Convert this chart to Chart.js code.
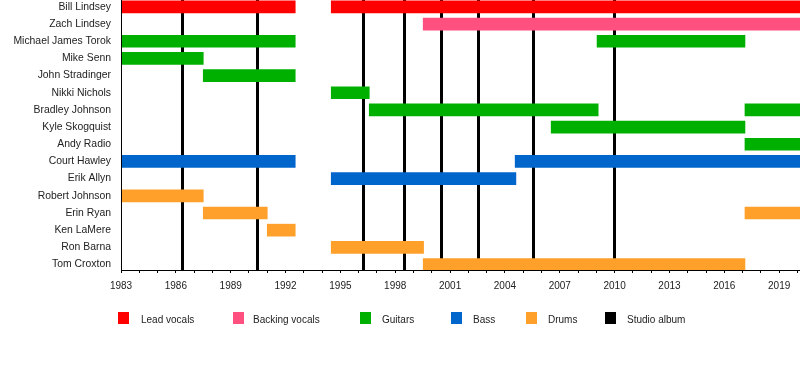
<!DOCTYPE html>
<html><head><meta charset="utf-8">
<script src="https://cdn.jsdelivr.net/npm/chart.js@4"></script>
<style>
html,body{margin:0;padding:0;background:#fff;}
#wrap{position:relative;width:800px;height:390px;overflow:hidden;}
#legend{position:absolute;left:0;top:0;width:800px;height:390px;pointer-events:none;font:10px "Liberation Sans",Arial,sans-serif;color:#222;}
.sw{position:absolute;width:11px;height:12px;top:312px;}
.lt{position:absolute;top:313px;line-height:14px;white-space:nowrap;}
</style></head><body>
<div id="wrap"><canvas id="c" width="800" height="390"></canvas><div id="legend"></div></div>
<script>
// ---- data ----
const members = ["Bill Lindsey","Zach Lindsey","Michael James Torok","Mike Senn","John Stradinger","Nikki Nichols","Bradley Johnson","Kyle Skogquist","Andy Radio","Court Hawley","Erik Allyn","Robert Johnson","Erin Ryan","Ken LaMere","Ron Barna","Tom Croxton"];
const START = 1983;
const END = 2020.14;
const leadVocals = [["Bill Lindsey",1983,1992.53],["Bill Lindsey",1994.5,END]];
const backingVocals = [["Zach Lindsey",1999.53,END]];
const guitars = [["Michael James Torok",1983,1992.53],["Michael James Torok",2009.04,2017.13],["Mike Senn",1983,1987.5],["John Stradinger",1987.5,1992.53],["Nikki Nichols",1994.5,1996.58],["Bradley Johnson",1996.58,2009.1],["Bradley Johnson",2017.13,END],["Kyle Skogquist",2006.53,2017.13],["Andy Radio",2017.13,END]];
const bass = [["Court Hawley",1983,1992.53],["Court Hawley",2004.56,END],["Erik Allyn",1994.5,2004.6]];
const drums = [["Robert Johnson",1983,1987.5],["Erin Ryan",1987.5,1991.0],["Erin Ryan",2017.13,END],["Ken LaMere",1991.0,1992.53],["Ron Barna",1994.5,1999.55],["Tom Croxton",1999.53,2017.13]];
const studioAlbums = [1986.37,1990.47,1996.26,1998.53,2000.55,2002.55,2005.56,2009.99];
const labeledYears = [1983,1986,1989,1992,1995,1998,2001,2004,2007,2010,2013,2016,2019];

const roles = [
  {label:"Lead vocals", color:"#FF0000", periods:leadVocals},
  {label:"Backing vocals", color:"#FF5080", periods:backingVocals},
  {label:"Guitars", color:"#00B000", periods:guitars},
  {label:"Bass", color:"#0066CC", periods:bass},
  {label:"Drums", color:"#FFA02A", periods:drums}
];

const FONT = '"Liberation Sans", Arial, sans-serif';
const datasets = roles.map(r => ({
  label: r.label,
  data: r.periods.map(p => ({x:[p[1], p[2]], y: members.indexOf(p[0])})),
  backgroundColor: r.color,
  borderWidth: 0,
  barThickness: 12,
  grouped: false
}));

function noPad(s) { s.paddingTop = 0; s.paddingBottom = 0; s.paddingLeft = 0; s.paddingRight = 0; }

new Chart(document.getElementById('c'), {
  type: 'bar',
  data: { datasets },
  options: {
    indexAxis: 'y',
    responsive: false,
    animation: false,
    layout: { padding: { left: 0, right: 0, top: 0, bottom: 90 } },
    plugins: { legend: { display: false }, tooltip: { enabled: false } },
    scales: {
      x: {
        type: 'linear', position: 'bottom', min: START, max: END, offset: false,
        afterBuildTicks: s => { const t = []; for (let y = 1983; y <= 2020; y++) t.push({value: y}); s.ticks = t; },
        afterFit: s => { s.height = 30; noPad(s); },
        ticks: { autoSkip: false, maxRotation: 0, padding: 7, color: '#222', font: { family: FONT, size: 10 },
          callback: v => labeledYears.includes(v) ? String(v) : '' },
        grid: { drawOnChartArea: false, drawTicks: true, tickLength: 3, color: '#000', lineWidth: 1 },
        border: { display: true, color: '#000', width: 1, z: 1 }
      },
      x2: {
        type: 'linear', position: 'top', min: START, max: END, offset: false,
        afterBuildTicks: s => { s.ticks = studioAlbums.map(v => ({value: v})); },
        afterFit: s => { s.height = 0; noPad(s); },
        ticks: { display: false },
        grid: { drawOnChartArea: true, drawTicks: false, color: '#000', lineWidth: 3, offset: false },
        border: { display: false }
      },
      y: {
        type: 'linear', reverse: true, min: -0.4, max: 15.32, offset: false,
        afterBuildTicks: s => { s.ticks = members.map((m, i) => ({value: i})); },
        afterFit: s => { s.width = 121; noPad(s); },
        ticks: { autoSkip: false, padding: 10, color: '#222', font: { family: FONT, size: 10.4 },
          callback: v => members[v] },
        grid: { display: false, drawTicks: false, offset: false },
        border: { display: true, color: '#000', width: 1, z: 1 }
      }
    }
  }
});

// ---- legend ----
const legendItems = roles.map(r => ({label: r.label, color: r.color})).concat([{label: "Studio album", color: "#000000"}]);
const legendBoxX = [118, 233, 360, 451, 526, 605];
const legendTextX = [141, 253, 382, 473, 548, 627];
const lg = document.getElementById('legend');
legendItems.forEach((it, i) => {
  const sw = document.createElement('div'); sw.className = 'sw'; sw.style.left = legendBoxX[i] + 'px'; sw.style.background = it.color; lg.appendChild(sw);
  const t = document.createElement('div'); t.className = 'lt'; t.style.left = legendTextX[i] + 'px'; t.textContent = it.label; lg.appendChild(t);
});
</script>
</body></html>
